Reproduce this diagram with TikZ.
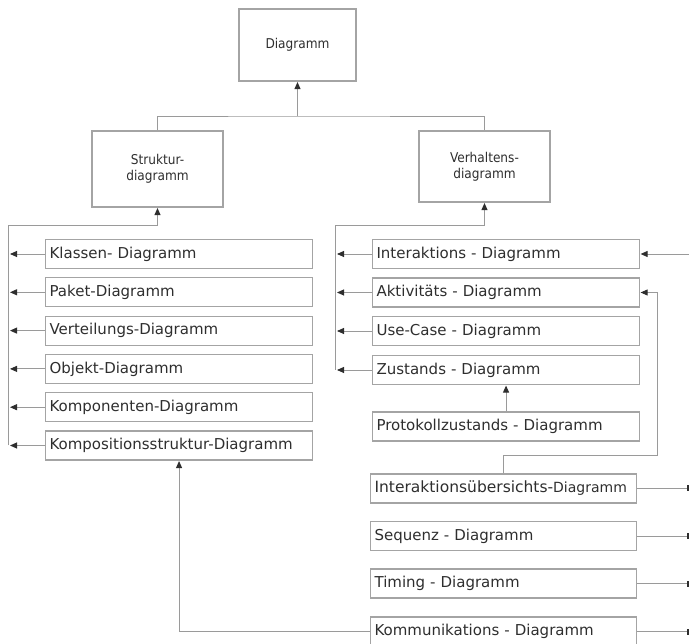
\documentclass[tikz,border=0pt]{standalone}
\usepackage{fontspec}
\setmainfont{DejaVu Sans}
\newfontfamily\narrowfont[FakeStretch=0.9]{DejaVu Sans}
\usetikzlibrary{arrows.meta}

\definecolor{linegray}{HTML}{9A9A9A}
\definecolor{boxgray}{HTML}{A4A4A4}
\definecolor{textgray}{HTML}{2E2E2E}

\begin{document}
\begin{tikzpicture}[x=1pt, y=-1pt,
		>={Triangle[length=7pt,width=6pt,fill=textgray,color=textgray]},
		conn/.style={draw=linegray, line width=0.9pt},
		gen/.style={conn, ->, shorten >=0.5pt},
		topbox/.style={draw=boxgray, line width=1.1pt, align=center, text=textgray,
			font=\narrowfont\fontsize{13.5}{16}\selectfont, inner sep=0pt},
		listbox/.style={draw=boxgray, line width=1.1pt, anchor=west, text=textgray,
			minimum height=29pt, text width=259pt, inner xsep=4pt, inner ysep=0pt, align=left,
			font=\fontsize{15}{18}\selectfont}]
	\useasboundingbox (0,0) rectangle (689,644);
	\clip (0,0) rectangle (689,644);
	
	% top of the hierarchy
	\node[topbox, minimum width=117pt, minimum height=72pt] (diag) at (297.5,45) {Diagramm};
	\node[topbox, minimum width=131pt, minimum height=76pt] (struk) at (157.5,169) {Struktur-\\diagramm};
	\node[topbox, minimum width=131pt, minimum height=71pt] (verh) at (484.5,166.5) {Verhaltens-\\diagramm};
	
	\coordinate (topj) at (297.5,116);
	\draw[conn] (struk.north) |- (topj) -| (verh.north);
	\draw[gen] (topj) -- (diag.south);
	
	% structure diagrams
	\node[listbox] (kl) at (45,254) {Klassen- Diagramm};
	\node[listbox] (pk) at (45,292.3) {Paket-Diagramm};
	\node[listbox] (vt) at (45,330.6) {Verteilungs-Diagramm};
	\node[listbox] (ob) at (45,368.9) {Objekt-Diagramm};
	\node[listbox] (kp) at (45,407.2) {Komponenten-Diagramm};
	\node[listbox] (ks) at (45,445.5) {Kompositionsstruktur-Diagramm};
	
	\coordinate (lbus) at (8,225);
	\draw[gen] (lbus |- ks.west) -- (lbus) -| (struk.south);
	\foreach \n in {kl,pk,vt,ob,kp,ks}
		\draw[gen, shorten >=2pt] (\n.west) -- (\n.west -| lbus);
	
	% behaviour diagrams
	\node[listbox] (ia) at (372,254) {Interaktions - Diagramm};
	\node[listbox] (ak) at (372,292.5) {Aktivitäts - Diagramm};
	\node[listbox] (uc) at (372,331) {Use-Case - Diagramm};
	\node[listbox] (zu) at (372,370) {Zustands - Diagramm};
	\node[listbox] (pz) at (372,426.5) {Protokollzustands - Diagramm};
	
	\coordinate (rbus) at (335,225);
	\draw[gen] (rbus |- zu.west) -- (rbus) -| (verh.south);
	\foreach \n in {ia,ak,uc,zu}
		\draw[gen, shorten >=2pt] (\n.west) -- (\n.west -| rbus);
	\draw[gen] (pz.north) -- (zu.south);
	
	% interaction diagrams
	\node[listbox, text width=258pt] (ius) at (370,488.5)
		{\fontsize{15.5}{18}\selectfont Interaktionsübersichts-{\fontsize{14}{16}\selectfont Diagramm}};
	\node[listbox, text width=258pt] (sq) at (370,536) {Sequenz - Diagramm};
	\node[listbox, text width=258pt] (tm) at (370,583.5) {Timing - Diagramm};
	\node[listbox, text width=258pt] (km) at (370,631.5) {Kommunikations - Diagramm};
	
	\coordinate (abus) at (657,455);
	\draw[gen] (ius.north) |- (abus) |- (ak.east);
	
	\coordinate (redge) at (689,0);
	\coordinate (rtail) at (687,0);
	\draw[gen] (ia.east -| redge) -- (ia.east);
	\foreach \n in {ius,sq,tm,km} {
		\draw[conn] (\n.east) -- (\n.east -| rtail);
		\fill[textgray] (\n.east -| rtail) ++(0,-3) rectangle ++(3,6);
	}
	
	\draw[gen] (km.west) -| (ks.south);
\end{tikzpicture}
\end{document}
